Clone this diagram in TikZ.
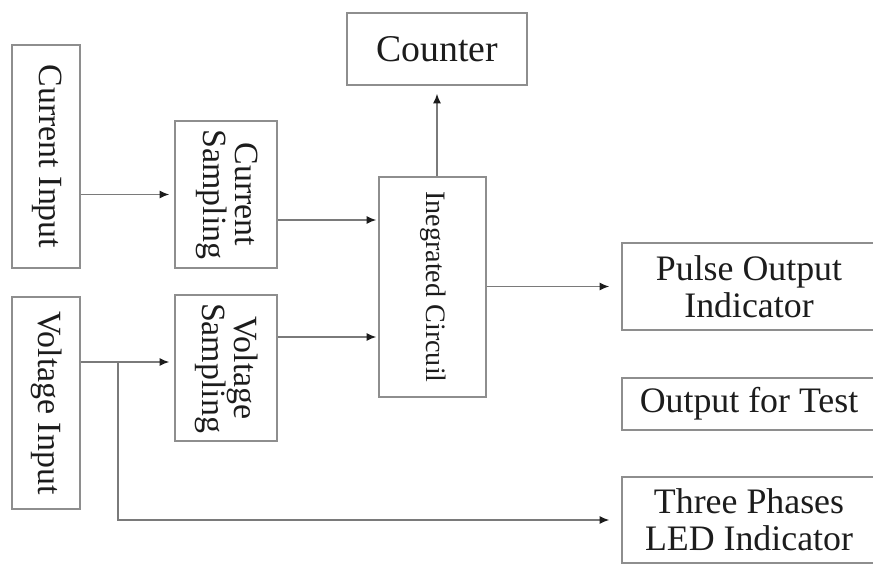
\documentclass[tikz,border=0pt]{standalone}
\usepackage{fontspec}
\usepackage{graphicx}
\setmainfont{Liberation Serif}
\usetikzlibrary{arrows.meta}
\definecolor{boxGray}{HTML}{8E8E8E}
\definecolor{lineGray}{HTML}{7A7A7A}
\definecolor{inkDark}{HTML}{1C1C1C}
\newcommand{\vtext}[1]{\rotatebox{-90}{\begin{tabular}{@{}c@{}}#1\end{tabular}}}

\begin{document}
\begin{tikzpicture}[
     x=0.02cm, y=-0.02cm,
     blk/.style={draw=boxGray, line width=0.9pt, inner sep=0pt, align=center, text=inkDark},
     vblk/.style={blk, font=\fontsize{19.3}{17}\selectfont},
     hblk/.style={blk, font=\fontsize{20.4}{21}\selectfont},
     arr/.style={-{Latex[length=5.5pt, width=4.6pt, color=inkDark]}, line width=0.8pt, draw=lineGray}]
     \clip (0,0) rectangle (873,564);
     % inputs and sampling
     \node[vblk, minimum width=1.36cm, minimum height=4.46cm] (curin) at (46,156.5) {\vtext{Current Input}};
     \node[vblk, minimum width=1.36cm, minimum height=4.24cm] (volin) at (46,403) {\vtext{Voltage Input}};
     \node[vblk, minimum width=2.04cm, minimum height=2.94cm] (cursamp) at (226,194.5) {\vtext{Current\\Sampling}};
     \node[vblk, minimum width=2.04cm, minimum height=2.92cm] (volsamp) at (226,368) {\vtext{Voltage\\Sampling}};
     % core
     \node[blk, font=\fontsize{16}{16}\selectfont, minimum width=2.14cm, minimum height=4.4cm] (ic) at (432.5,287) {\vtext{Inegrated Circuil}};
     \node[hblk, font=\fontsize{21.5}{22}\selectfont, minimum width=3.6cm, minimum height=1.44cm] (counter) at (437,49) {Counter};
     % outputs (cut off at the right edge)
     \node[hblk, minimum width=5.08cm, minimum height=1.74cm] (pulse) at (749,286.5) {Pulse Output\\Indicator};
     \node[hblk, minimum width=5.08cm, minimum height=1.04cm] (test) at (749,404) {Output for Test};
     \node[hblk, minimum width=5.08cm, minimum height=1.72cm] (three) at (749,520) {Three Phases\\LED Indicator};
     % connectors
     \coordinate (vj) at (118,362);
     \coordinate (c1) at (0,220);
     \coordinate (c2) at (0,337);
     \draw[arr, shorten >=0.1cm] (curin.east |- cursamp.west) -- (cursamp.west);
     \draw[arr, shorten >=0.1cm] (volin.east |- vj) -- (volsamp.west |- vj);
     \draw[arr, shorten >=0.24cm] (vj) -- (vj |- three.west) -- (three.west);
     \draw[arr, shorten >=0.04cm] (cursamp.east |- c1) -- (ic.west |- c1);
     \draw[arr, shorten >=0.04cm] (volsamp.east |- c2) -- (ic.west |- c2);
     \draw[arr, shorten >=0.16cm] (ic.north -| counter.south) -- (counter.south);
     \draw[arr, shorten >=0.24cm] (ic.east |- pulse.west) -- (pulse.west);
  \end{tikzpicture}
\end{document}
